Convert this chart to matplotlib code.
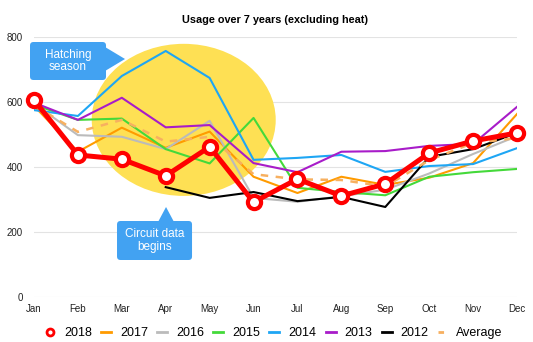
import numpy as np
import matplotlib.pyplot as plt
from matplotlib.patches import Ellipse, FancyBboxPatch, Polygon
from matplotlib.lines import Line2D

plt.rcParams['font.family'] = ['Liberation Sans', 'DejaVu Sans']

months = ['Jan', 'Feb', 'Mar', 'Apr', 'May', 'Jun', 'Jul', 'Aug', 'Sep', 'Oct', 'Nov', 'Dec']
y2018 = [606, 437, 424, 373, 462, 292, 363, 311, 348, 443, 480, 505]
y2017 = [588, 447, 521, 459, 509, 370, 320, 370, 345, 367, 412, 563]
y2016 = [595, 498, 493, 455, 542, 305, 293, 310, 330, 380, 440, 495]
y2015 = [592, 545, 549, 455, 411, 551, 336, 323, 313, 370, 384, 394]
y2014 = [575, 557, 680, 757, 674, 422, 428, 437, 385, 403, 409, 458]
y2013 = [598, 545, 613, 522, 529, 412, 384, 447, 449, 465, 471, 585]
y2012 = [None, None, None, 338, 305, 323, 295, 308, 277, 431, 455, 505]
avg = [590, 508, 545, 478, 493, 378, 362, 360, 340, 421, 474, 489]

series = [
    ('2017', y2017, '#FF9B00', 1.5, '-'),
    ('2016', y2016, '#BBBBBB', 1.5, '-'),
    ('2015', y2015, '#44D93A', 1.5, '-'),
    ('2014', y2014, '#1EA6F4', 1.5, '-'),
    ('2013', y2013, '#A81CC9', 1.5, '-'),
    ('2012', y2012, '#000000', 1.5, '-'),
    ('Average', avg, '#F7B060', 1.8, (0, (3, 3))),
]

x = np.arange(len(months))

fig = plt.figure(figsize=(5.33, 3.42), dpi=100)
ax = fig.add_axes([34/533, 1-297/342, (517-34)/533, (297-37)/342])

# highlighted season
ax.add_patch(Ellipse((3.41, 545), 4.19, 468, facecolor='#FEE054', edgecolor='none', zorder=1))

for name, vals, c, lw, ls in series:
    v = np.array([np.nan if a is None else a for a in vals], dtype=float)
    ax.plot(x, v, color=c, lw=lw, ls=ls, zorder=3)
ax.plot(x, y2018, color='#FF0000', lw=3.6, marker='o', ms=9.5, mfc='white',
        mec='#FF0000', mew=3, zorder=5, clip_on=False)

ax.set_xlim(0, 11)
ax.set_ylim(0, 800)
ax.set_xticks(x)
ax.set_xticklabels(months)
ax.set_yticks([0, 200, 400, 600, 800])
ax.tick_params(length=0, labelsize=7, colors='#222222')
ax.tick_params(axis='y', pad=8)
ax.tick_params(axis='x', pad=5)
ax.grid(axis='y', color='#E3E3E3', lw=0.8)
ax.set_axisbelow(True)
for s in ax.spines.values():
    s.set_visible(False)

ax.set_title('Usage over 7 years (excluding heat)', fontsize=7.8, fontweight='bold', pad=10)

# callouts
box_c = '#42A2F2'
def px(xp, yp):
    return ((xp-34)/43.9, (297-yp)/0.325)

def callout(x0, y0, x1, y1, tri, text):
    a = px(x0, y1)
    b = px(x1, y0)
    ax.add_patch(FancyBboxPatch(a, b[0]-a[0], b[1]-a[1],
                 boxstyle='round,pad=0,rounding_size=0.08', mutation_aspect=135,
                 facecolor=box_c, edgecolor='none', zorder=6, clip_on=False))
    ax.add_patch(Polygon([px(*p) for p in tri], closed=True, facecolor=box_c,
                 edgecolor='none', zorder=6, clip_on=False))
    cx, cy = px((x0+x1)/2, (y0+y1)/2)
    ax.text(cx, cy, text, color='white', fontsize=8.5, ha='center', va='center',
            zorder=7, linespacing=1.1)

callout(30, 42, 106, 80, [(105, 47), (125, 59), (105, 71)], 'Hatching\nseason')
callout(117, 221, 192, 260, [(158, 222), (166, 207), (174, 222)], 'Circuit data\nbegins')

handles = [Line2D([], [], color='#FF0000', lw=0, marker='o', ms=5, mfc='white',
                  mec='#FF0000', mew=2)]
labels = ['2018']
for name, vals, c, lw, ls in series:
    handles.append(Line2D([], [], color=c, lw=2, ls=ls if name != 'Average' else (0, (2, 2))))
    labels.append(name)
fig.legend(handles, labels, loc='center', bbox_to_anchor=(274/533, 1-333/342), ncol=8,
           frameon=False, fontsize=9, handlelength=0.8, handletextpad=0.7,
           columnspacing=0.75, borderpad=0, borderaxespad=0)

fig.savefig('out.png', dpi=100)
